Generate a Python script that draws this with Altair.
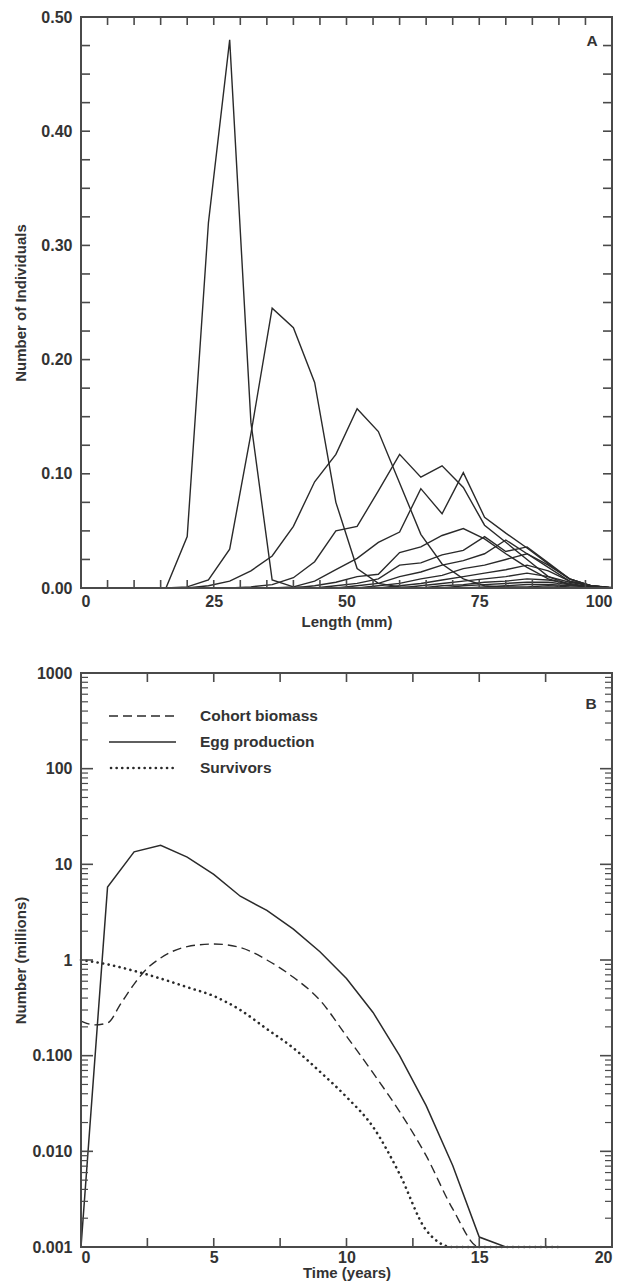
import altair as alt
import pandas as pd

# ---------------- Panel A data (length-frequency by cohort) ----------------
lengths = [4, 8, 12, 16, 20, 24, 28, 32, 36, 40, 44, 48, 52, 56, 60, 64, 68, 72, 76, 80, 84, 88, 92, 96, 100]

cohort_01 = [0, 0, 0, 0, 0.045, 0.32, 0.48, 0.145, 0.007, 0.001, 0, 0, 0, 0, 0, 0, 0, 0, 0, 0, 0, 0, 0, 0, 0]
cohort_02 = [0, 0, 0, 0, 0.001, 0.007, 0.034, 0.135, 0.245, 0.228, 0.18, 0.075, 0.017, 0.004, 0.001, 0, 0, 0, 0, 0, 0, 0, 0, 0, 0]
cohort_03 = [0, 0, 0, 0, 0, 0.002, 0.006, 0.015, 0.028, 0.054, 0.093, 0.117, 0.157, 0.137, 0.092, 0.047, 0.021, 0.008, 0.002, 0.0005, 0, 0, 0, 0, 0]
cohort_04 = [0, 0, 0, 0, 0, 0, 0, 0.001, 0.003, 0.009, 0.023, 0.05, 0.054, 0.085, 0.117, 0.097, 0.107, 0.088, 0.055, 0.04, 0.025, 0.01, 0.003, 0.001, 0]
cohort_05 = [0, 0, 0, 0, 0, 0, 0, 0, 0, 0.001, 0.006, 0.016, 0.026, 0.04, 0.049, 0.087, 0.065, 0.101, 0.062, 0.048, 0.035, 0.021, 0.008, 0.002, 0.0005]
cohort_06 = [0, 0, 0, 0, 0, 0, 0, 0, 0, 0, 0.002, 0.005, 0.01, 0.012, 0.031, 0.036, 0.046, 0.052, 0.043, 0.03, 0.018, 0.008, 0.003, 0.001, 0]
cohort_07 = [0, 0, 0, 0, 0, 0, 0, 0, 0, 0, 0, 0.002, 0.004, 0.008, 0.02, 0.022, 0.029, 0.033, 0.045, 0.032, 0.036, 0.022, 0.008, 0.002, 0]
cohort_08 = [0, 0, 0, 0, 0, 0, 0, 0, 0, 0, 0, 0, 0.002, 0.004, 0.01, 0.014, 0.02, 0.024, 0.03, 0.042, 0.03, 0.018, 0.006, 0.002, 0]
cohort_09 = [0, 0, 0, 0, 0, 0, 0, 0, 0, 0, 0, 0, 0, 0.002, 0.004, 0.008, 0.011, 0.017, 0.02, 0.025, 0.03, 0.02, 0.008, 0.002, 0]
cohort_10 = [0, 0, 0, 0, 0, 0, 0, 0, 0, 0, 0, 0, 0, 0, 0.002, 0.004, 0.007, 0.01, 0.013, 0.016, 0.02, 0.015, 0.006, 0.002, 0]
cohort_11 = [0, 0, 0, 0, 0, 0, 0, 0, 0, 0, 0, 0, 0, 0, 0, 0.002, 0.004, 0.006, 0.008, 0.01, 0.013, 0.01, 0.005, 0.002, 0]
cohort_12 = [0, 0, 0, 0, 0, 0, 0, 0, 0, 0, 0, 0, 0, 0, 0, 0, 0.002, 0.003, 0.005, 0.006, 0.008, 0.007, 0.004, 0.001, 0]
cohort_13 = [0, 0, 0, 0, 0, 0, 0, 0, 0, 0, 0, 0, 0, 0, 0, 0, 0, 0.002, 0.003, 0.004, 0.005, 0.005, 0.003, 0.001, 0]
cohort_14 = [0, 0, 0, 0, 0, 0, 0, 0, 0, 0, 0, 0, 0, 0, 0, 0, 0, 0, 0.001, 0.002, 0.003, 0.003, 0.002, 0.001, 0]
cohort_15 = [0, 0, 0, 0, 0, 0, 0, 0, 0, 0, 0, 0, 0, 0, 0, 0, 0, 0, 0, 0.001, 0.001, 0.002, 0.001, 0.0005, 0]

cohorts = [cohort_01, cohort_02, cohort_03, cohort_04, cohort_05, cohort_06, cohort_07,
           cohort_08, cohort_09, cohort_10, cohort_11, cohort_12, cohort_13, cohort_14, cohort_15]

a_x_labels = [0, 25, 50, 75, 100]
a_y_labels = [0.0, 0.1, 0.2, 0.3, 0.4, 0.5]
a_x_ticks = [5 * i for i in range(21)]
a_y_ticks = [0.025 * i for i in range(21)]

# ---------------- Panel B data (time series, log scale) ----------------
years_egg = [0, 1, 2, 3, 4, 5, 6, 7, 8, 9, 10, 11, 12, 13, 14, 15, 16, 17, 18, 19]
egg_production = [0.001, 5.8, 13.5, 15.8, 11.9, 7.85, 4.64, 3.3, 2.1, 1.22, 0.64, 0.283, 0.1, 0.03, 0.0071, 0.00127, 0.001, 0.001, 0.001, 0.001]

years_biomass = [0, 0.5, 1, 1.5, 2, 2.5, 3, 4, 5, 6, 7, 8, 9, 10, 11, 12, 13, 14, 15, 16, 17, 18, 19]
cohort_biomass = [0.23, 0.21, 0.22, 0.35, 0.56, 0.82, 1.05, 1.38, 1.47, 1.35, 1.0, 0.66, 0.38, 0.16, 0.066, 0.026, 0.009, 0.0025, 0.001, 0.001, 0.001, 0.001, 0.001]

years_surv = [0, 1, 2, 3, 4, 5, 6, 7, 8, 9, 10, 11, 12, 13, 14, 15, 16, 17, 18]
survivors = [1.0, 0.9, 0.77, 0.64, 0.52, 0.42, 0.30, 0.19, 0.12, 0.068, 0.037, 0.018, 0.0058, 0.0015, 0.001, 0.001, 0.001, 0.001, 0.001]

b_x_labels = [0, 5, 10, 15, 20]
b_x_ticks = [2.5 * i for i in range(9)]
b_y_labels = [0.001, 0.01, 0.1, 1, 10, 100, 1000]
b_y_minor = [d * m for d in [0.001, 0.01, 0.1, 1, 10, 100] for m in range(2, 10)]

legend_names = ["Cohort biomass", "Egg production", "Survivors"]

# ---------------- styling ----------------
FONT = "Liberation Sans"
INK = "#2a2a2a"
FRAME = "#4a4a4a"
TXT = "#333333"
W = 531
HA = 571
HB = 574

one = pd.DataFrame({"k": [0]})


def frame(h):
    return alt.Chart(one).mark_rect(filled=False, stroke=FRAME, strokeWidth=2).encode(
        x=alt.value(0), x2=alt.value(W), y=alt.value(0), y2=alt.value(h))


# ---------------- Panel A ----------------
rows = []
for i, c in enumerate(cohorts):
    for L, v in zip(lengths, c):
        rows.append({"length": L, "value": v, "cohort": i + 1})
df_a = pd.DataFrame(rows)

xs_a = alt.Scale(domain=[0, 100], nice=False, zero=False)
ys_a = alt.Scale(domain=[0, 0.5], nice=False)
ax_xa = alt.Axis(values=a_x_labels, title="Length (mm)", ticks=False, domain=False,
                 grid=False, labelPadding=5, titlePadding=5)
ax_ya = alt.Axis(values=a_y_labels, format=".2f", title="Number of Individuals",
                 ticks=False, domain=False, grid=False, labelPadding=9,
                 minExtent=52, maxExtent=52, titlePadding=1)
xa = alt.X("length:Q", scale=xs_a, axis=ax_xa)
ya = alt.Y("value:Q", scale=ys_a, axis=ax_ya)

lines_a = alt.Chart(df_a).mark_line(color=INK, strokeWidth=1.4).encode(x=xa, y=ya, detail="cohort:N")

ya_df = pd.DataFrame({"value": a_y_ticks})
xa_df = pd.DataFrame({"length": a_x_ticks})
tk = dict(color=FRAME, strokeWidth=1.6)
a_left = alt.Chart(ya_df).mark_rule(**tk).encode(y=ya, x=alt.value(0), x2=alt.value(9))
a_right = alt.Chart(ya_df).mark_rule(**tk).encode(y=ya, x=alt.value(W - 9), x2=alt.value(W))
a_bottom = alt.Chart(xa_df).mark_rule(**tk).encode(x=xa, y=alt.value(HA - 8), y2=alt.value(HA))
a_top = alt.Chart(xa_df).mark_rule(**tk).encode(x=xa, y=alt.value(0), y2=alt.value(8))
a_label = alt.Chart(pd.DataFrame({"t": ["A"]})).mark_text(
    font=FONT, fontSize=15.5, fontWeight="bold", color=TXT, align="center", baseline="middle"
).encode(text="t:N", x=alt.value(W - 20), y=alt.value(24))

panel_a = alt.layer(lines_a, a_left, a_right, a_bottom, a_top, a_label, frame(HA)).properties(width=W, height=HA)

# ---------------- Panel B ----------------
df_egg = pd.DataFrame({"year": years_egg, "value": egg_production})
df_bio = pd.DataFrame({"year": years_biomass, "value": cohort_biomass})
df_sur = pd.DataFrame({"year": years_surv, "value": survivors})

xs_b = alt.Scale(domain=[0, 20], nice=False, zero=False)
ys_b = alt.Scale(type="log", domain=[0.001, 1000], nice=False)
ax_xb = alt.Axis(values=b_x_labels, title="Time (years)", ticks=False, domain=False,
                 grid=False, labelPadding=2, titlePadding=0)
ax_yb = alt.Axis(values=b_y_labels, title="Number (millions)", ticks=False, domain=False,
                 grid=False, labelPadding=9, minExtent=52, maxExtent=52, titlePadding=1,
                 labelExpr="datum.value >= 1 ? format(datum.value, 'd') : format(datum.value, '.3f')")
xb = alt.X("year:Q", scale=xs_b, axis=ax_xb)
yb = alt.Y("value:Q", scale=ys_b, axis=ax_yb)

egg_line = alt.Chart(df_egg).mark_line(color=INK, strokeWidth=1.5).encode(x=xb, y=yb)
bio_line = alt.Chart(df_bio).mark_line(color=INK, strokeWidth=1.4, strokeDash=[9, 5], interpolate="monotone").encode(x=xb, y=yb)
sur_line = alt.Chart(df_sur).mark_line(color=INK, strokeWidth=2.6, strokeDash=[0.1, 5.5], strokeCap="round", interpolate="monotone").encode(x=xb, y=yb)

yb_major = pd.DataFrame({"value": b_y_labels})
yb_minor = pd.DataFrame({"value": b_y_minor})
xb_df = pd.DataFrame({"year": b_x_ticks})
b_left_major = alt.Chart(yb_major).mark_rule(**tk).encode(y=yb, x=alt.value(0), x2=alt.value(12))
b_right_major = alt.Chart(yb_major).mark_rule(**tk).encode(y=yb, x=alt.value(W - 12), x2=alt.value(W))
b_left_minor = alt.Chart(yb_minor).mark_rule(color=FRAME, strokeWidth=1.2).encode(y=yb, x=alt.value(0), x2=alt.value(7))
b_right_minor = alt.Chart(yb_minor).mark_rule(color=FRAME, strokeWidth=1.2).encode(y=yb, x=alt.value(W - 7), x2=alt.value(W))
b_bottom = alt.Chart(xb_df).mark_rule(**tk).encode(x=xb, y=alt.value(HB - 9), y2=alt.value(HB))
b_top = alt.Chart(xb_df).mark_rule(**tk).encode(x=xb, y=alt.value(0), y2=alt.value(9))

b_label = alt.Chart(pd.DataFrame({"t": ["B"]})).mark_text(
    font=FONT, fontSize=15.5, fontWeight="bold", color=TXT, align="center", baseline="middle"
).encode(text="t:N", x=alt.value(W - 21), y=alt.value(31))

# legend drawn inside the panel
LX1, LX2, LT = 28, 95, 119
LY = [43, 69, 95]
leg_dash = alt.Chart(one).mark_rule(color=INK, strokeWidth=1.4, strokeDash=[9, 5]).encode(
    x=alt.value(LX1), x2=alt.value(LX2), y=alt.value(LY[0]))
leg_solid = alt.Chart(one).mark_rule(color=INK, strokeWidth=1.5).encode(
    x=alt.value(LX1), x2=alt.value(LX2), y=alt.value(LY[1]))
leg_dot = alt.Chart(one).mark_rule(color=INK, strokeWidth=2.6, strokeDash=[0.1, 5.5], strokeCap="round").encode(
    x=alt.value(LX1 + 2), x2=alt.value(LX2), y=alt.value(LY[2]))
leg_texts = [
    alt.Chart(pd.DataFrame({"name": [nm]})).mark_text(
        font=FONT, fontSize=15.5, fontWeight="bold", color=TXT, align="left", baseline="middle"
    ).encode(text="name:N", x=alt.value(LT), y=alt.value(yy))
    for nm, yy in zip(legend_names, LY)
]

panel_b = alt.layer(
    bio_line, egg_line, sur_line,
    b_left_major, b_right_major, b_left_minor, b_right_minor, b_bottom, b_top,
    b_label, leg_dash, leg_solid, leg_dot, *leg_texts, frame(HB),
).properties(width=W, height=HB)

chart = alt.vconcat(panel_a, panel_b, spacing=34).properties(
    padding={"left": 4, "top": 0, "right": 0, "bottom": 0}
).configure(
    background="white"
).configure_view(
    stroke="transparent"
).configure_axis(
    labelFont=FONT, labelFontSize=16, labelFontWeight="bold", labelColor=TXT,
    titleFont=FONT, titleFontSize=15, titleFontWeight="bold", titleColor=TXT,
)

chart.save("out.html", embed_options={"renderer": "svg", "actions": False})
